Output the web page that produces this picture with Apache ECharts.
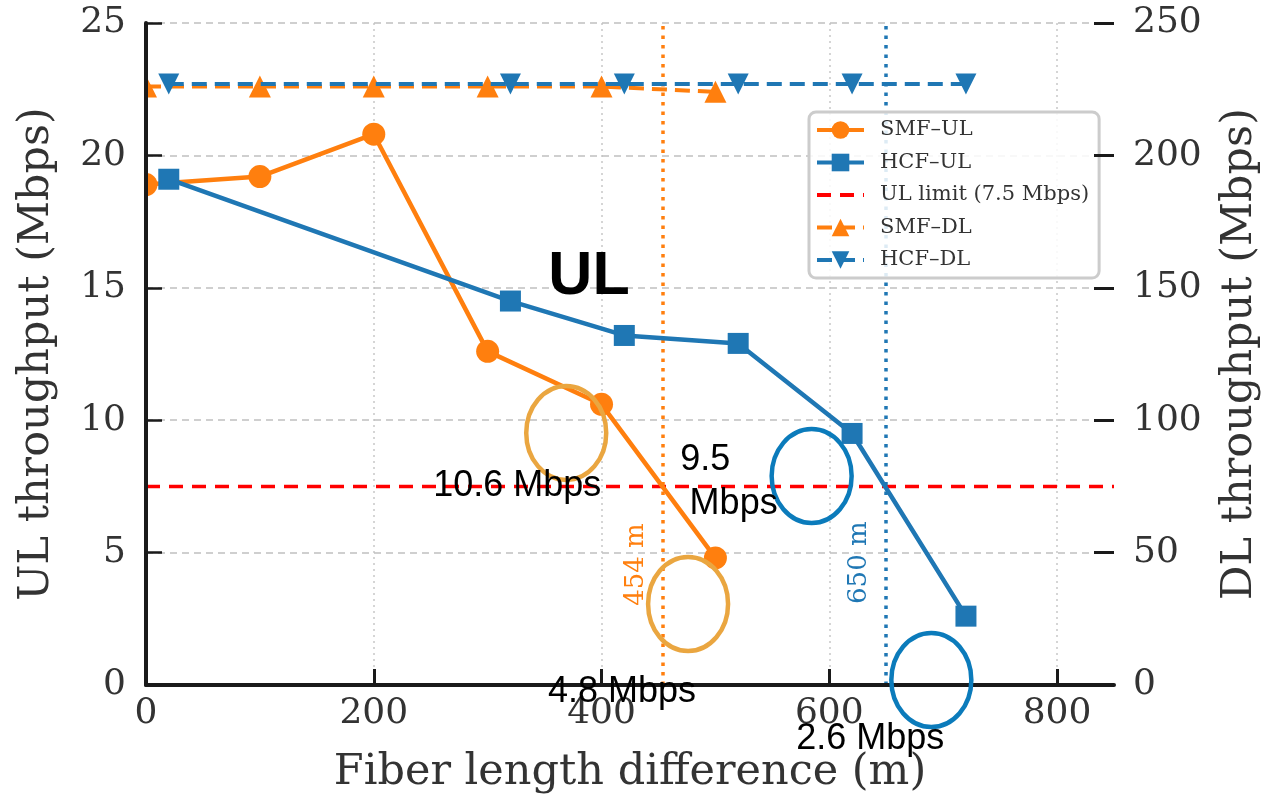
<!DOCTYPE html>
<html><head><meta charset="utf-8">
<script src="https://cdn.jsdelivr.net/npm/echarts@6/dist/echarts.min.js"></script>
<style>html,body{margin:0;padding:0;background:#fff}#c{width:1269px;height:800px}</style>
</head><body><div id="c"></div>
<script>
// ---------------- data ----------------
const smfUlX = [0, 100, 200, 300, 400, 500];
const smfUlY = [18.9, 19.2, 20.8, 12.6, 10.6, 4.8];
const hcfUlX = [20, 320, 420, 520, 620, 720];
const hcfUlY = [19.1, 14.5, 13.2, 12.9, 9.5, 2.6];
const smfDlX = [0, 100, 200, 300, 400, 500];
const smfDlY = [226, 226, 226, 226, 226, 224];
const hcfDlX = [20, 320, 420, 520, 620, 720];
const hcfDlY = [227, 227, 227, 227, 227, 227];
const ulLimit = 7.5;
const smfCutoff = 454;
const hcfCutoff = 650;
const xTicks = [0, 200, 400, 600, 800];
const yTicks = [0, 5, 10, 15, 20, 25];
const seriesNames = ['SMF–UL', 'HCF–UL', 'UL limit (7.5 Mbps)', 'SMF–DL', 'HCF–DL'];
const axisTitles = ['Fiber length difference (m)', 'UL throughput (Mbps)', 'DL throughput (Mbps)'];
const cutoffLabels = ['454 m', '650 m'];
const noteTexts = ['UL', '10.6 Mbps', '9.5', 'Mbps', '4.8 Mbps', '2.6 Mbps'];

// ---------------- layout / style ----------------
const GRID = {left: 146, right: 153, top: 23, bottom: 115};
const SERIF = 'DejaVu Serif';
const SANS = '"Liberation Sans", Arial, sans-serif';
const ORANGE = '#ff7f0e', BLUE = '#1f77b4';
const zip = (xs, ys) => xs.map((x, i) => [x, ys[i]]);

const chart = echarts.init(document.getElementById('c'));
const gridLines = [
  ...xTicks.filter(v => v > 0).map(v => ({xAxis: v, lineStyle: {type: [2, 4], color: '#c8c8c8', width: 1.5}})),
  ...yTicks.filter(v => v > 0).map(v => ({yAxis: v, lineStyle: {type: [7, 5], color: '#c0c0c0', width: 1.6}}))
];
const option = {
  animation: false,
  backgroundColor: '#fff',
  grid: Object.assign({containLabel: false}, GRID),
  legend: {
    data: [
      {name: seriesNames[0]},
      {name: seriesNames[1]},
      {name: seriesNames[2], itemStyle: {opacity: 0}},
      {name: seriesNames[3]},
      {name: seriesNames[4]}
    ],
    orient: 'vertical',
    left: 809, top: 112,
    padding: [6, 10, 6, 6],
    itemGap: 8.5,
    itemWidth: 47,
    itemHeight: 22,
    lineStyle: {width: 4},
    backgroundColor: 'rgba(255,255,255,0.85)',
    borderColor: '#cccccc',
    borderWidth: 3,
    borderRadius: 7,
    textStyle: {fontFamily: SERIF, fontSize: 21, color: '#333', lineHeight: 24, padding: [0, 0, 0, 11]}
  },
  xAxis: {
    type: 'value', min: 0, max: 850, interval: 200, z: 60,
    name: axisTitles[0], nameLocation: 'middle', nameGap: 66,
    nameTextStyle: {fontFamily: SERIF, fontSize: 43, color: '#333'},
    axisLine: {show: true, onZero: false, lineStyle: {color: '#1a1a1a', width: 4}},
    axisTick: {show: true, inside: true, length: 16, customValues: xTicks, lineStyle: {color: '#1a1a1a', width: 3}},
    axisLabel: {fontFamily: SERIF, fontSize: 36, color: '#333', margin: 11, customValues: xTicks},
    splitLine: {show: false}
  },
  yAxis: [{
    type: 'value', min: 0, max: 25, interval: 5, z: 60, position: 'left',
    name: axisTitles[1], nameLocation: 'middle', nameGap: 88, nameRotate: 90,
    nameTextStyle: {fontFamily: SERIF, fontSize: 43, color: '#333'},
    axisLine: {show: true, lineStyle: {color: '#1a1a1a', width: 4}},
    axisTick: {show: true, inside: true, length: 16, lineStyle: {color: '#1a1a1a', width: 2.5}},
    axisLabel: {fontFamily: SERIF, fontSize: 36, color: '#333', margin: 20},
    splitLine: {show: false}
  }, {
    type: 'value', min: 0, max: 250, interval: 50, z: 60, position: 'right',
    name: axisTitles[2], nameLocation: 'middle', nameGap: 104, nameRotate: 90,
    nameTextStyle: {fontFamily: SERIF, fontSize: 43, color: '#333'},
    axisLine: {show: false},
    axisTick: {show: true, inside: true, length: 20, lineStyle: {color: '#1a1a1a', width: 3}},
    axisLabel: {fontFamily: SERIF, fontSize: 36, color: '#333', margin: 19},
    splitLine: {show: false}
  }],
  series: [
    {
      name: seriesNames[2], type: 'line', yAxisIndex: 0, z: 2,
      data: [[0, ulLimit], [850, ulLimit]], symbol: 'none', showSymbol: false,
      lineStyle: {color: '#ff0000', width: 3.5, type: [14, 9]}, itemStyle: {color: '#ff0000'},
      markLine: {z: 1, silent: true, symbol: 'none', label: {show: false}, animation: false, data: gridLines}
    },
    {
      name: seriesNames[3], type: 'line', yAxisIndex: 1, z: 2,
      data: zip(smfDlX, smfDlY), symbol: 'triangle', symbolSize: 22,
      lineStyle: {color: ORANGE, width: 4, type: [15, 8]}, itemStyle: {color: ORANGE}
    },
    {
      name: seriesNames[4], type: 'line', yAxisIndex: 1, z: 3,
      data: zip(hcfDlX, hcfDlY), symbol: 'path://M0,0 L2,0 L1,2 Z', symbolSize: 21,
      lineStyle: {color: BLUE, width: 4, type: [15, 8]}, itemStyle: {color: BLUE}
    },
    {
      name: seriesNames[0], type: 'line', yAxisIndex: 0, z: 3,
      data: zip(smfUlX, smfUlY), symbol: 'circle', symbolSize: 23,
      lineStyle: {color: ORANGE, width: 4.5}, itemStyle: {color: ORANGE},
      markLine: {z: 3, silent: true, symbol: 'none', label: {show: false}, animation: false,
        lineStyle: {color: ORANGE, width: 3.5, type: [3.5, 6]},
        data: [{xAxis: smfCutoff, lineStyle: {color: ORANGE, width: 3.5, type: [3.5, 6]}}]}
    },
    {
      name: seriesNames[1], type: 'line', yAxisIndex: 0, z: 3,
      data: zip(hcfUlX, hcfUlY), symbol: 'rect', symbolSize: 21,
      lineStyle: {color: BLUE, width: 4.5}, itemStyle: {color: BLUE},
      markLine: {z: 3, silent: true, symbol: 'none', label: {show: false}, animation: false,
        lineStyle: {color: BLUE, width: 3.5, type: [3.5, 6]},
        data: [{xAxis: hcfCutoff, lineStyle: {color: BLUE, width: 3.5, type: [3.5, 6]}}]}
    }
  ]
};
chart.setOption(option);

// ---------------- annotations (anchored in data coordinates) ----------------
const px = (x, y) => chart.convertToPixel({xAxisIndex: 0, yAxisIndex: 0}, [x, y]);
const textNotes = [
  {t: noteTexts[0], at: [389, 15.4], size: 61, bold: true},
  {t: noteTexts[1], at: [326, 7.53], size: 36},
  {t: noteTexts[2], at: [491, 8.5], size: 36},
  {t: noteTexts[3], at: [516, 6.84], size: 36},
  {t: noteTexts[4], at: [418, -0.25], size: 36},
  {t: noteTexts[5], at: [636, -2.06], size: 36}
];
const ellipses = [
  {at: [369, 9.52], color: '#eaa640'},
  {at: [476, 3.06], color: '#eaa640'},
  {at: [584.5, 7.89], color: '#0b7bbb'},
  {at: [689.6, 0.19], color: '#0b7bbb'}
];
const vLabels = [
  {t: cutoffLabels[0], at: [430.5, 4.55], color: ORANGE},
  {t: cutoffLabels[1], at: [626, 4.62], color: BLUE}
];
const graphic = [];
graphic.push({type: 'rect', z: 50, silent: true,
  shape: {x: 0, y: 0, width: GRID.left - 2, height: 800 - GRID.bottom}, style: {fill: '#fff'}});
ellipses.forEach(e => {
  const p = px(e.at[0], e.at[1]);
  graphic.push({type: 'ellipse', z: 70, silent: true,
    shape: {cx: p[0], cy: p[1], rx: 40, ry: 47},
    style: {fill: 'none', stroke: e.color, lineWidth: 4.5}});
});
vLabels.forEach(v => {
  const p = px(v.at[0], v.at[1]);
  graphic.push({type: 'text', z: 70, silent: true, x: p[0], y: p[1], rotation: Math.PI / 2,
    style: {text: v.t, fill: v.color, fontFamily: SERIF, fontSize: 26, align: 'center', verticalAlign: 'middle'}});
});
textNotes.forEach(n => {
  const p = px(n.at[0], n.at[1]);
  graphic.push({type: 'text', z: 71, silent: true, x: p[0], y: p[1],
    style: {text: n.t, fill: '#000', fontFamily: SANS, fontSize: n.size, fontWeight: n.bold ? 'bold' : 'normal',
      align: 'center', verticalAlign: 'middle'}});
});
chart.setOption({graphic: graphic});
</script>
</body></html>
